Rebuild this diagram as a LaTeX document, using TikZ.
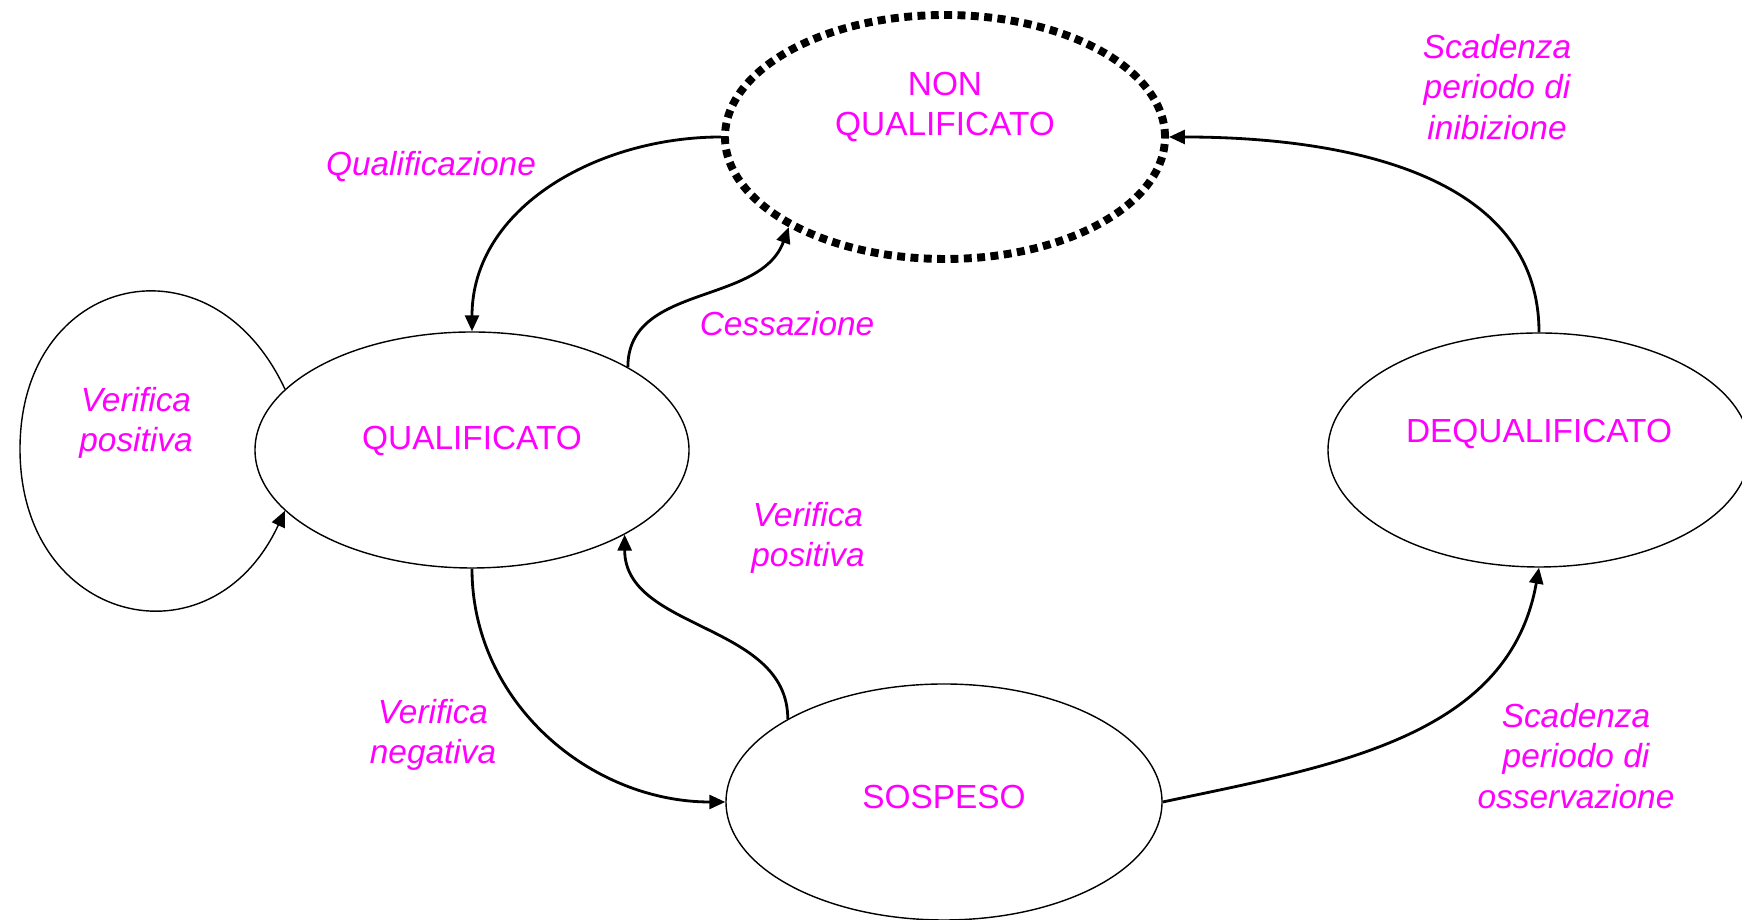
\documentclass[tikz,border=0pt]{standalone}
\usepackage{fontspec}
\setmainfont{Liberation Sans}
\usetikzlibrary{shapes.geometric,arrows.meta}

\definecolor{rosa}{HTML}{FF00FF}

\tikzset{
    stato/.style={ellipse, draw, line width=0.8pt, inner sep=0pt},
    nome/.style={text=rosa, font=\fontsize{19}{23}\selectfont, align=center},
    testo/.style={text=rosa, font=\fontsize{19}{23}\selectfont\itshape, align=center},
    transizione/.style={line width=1.6pt, -{Triangle[length=0.32cm, width=0.28cm]}},
    anello/.style={line width=0.8pt, -{Triangle[length=0.32cm, width=0.28cm]}},
}

\begin{document}
\begin{tikzpicture}

    \useasboundingbox (0,0) rectangle (34.84,18.4);

    % stati
    \node [stato, minimum width=8.8cm, minimum height=4.88cm, line width=4.5pt, dash pattern=on 4.5pt off 3.1pt,
           label={[nome, yshift=0.6cm]center:NON\\QUALIFICATO}] (nq) at (18.9,15.66) {};
    \node [stato, minimum width=8.68cm, minimum height=4.72cm,
           label={[nome, yshift=0.18cm]center:QUALIFICATO}] (q) at (9.44,9.40) {};
    \node [stato, minimum width=8.44cm, minimum height=4.68cm,
           label={[nome, yshift=0.32cm]center:DEQUALIFICATO}] (dq) at (30.78,9.40) {};
    \node [stato, minimum width=8.72cm, minimum height=4.72cm,
           label={[nome, yshift=0.1cm]center:SOSPESO}] (s) at (18.88,2.36) {};
    \coordinate (loop) at (0.4,9.42);

    % transizioni
    \draw [transizione] (nq.west) to[out=180, in=90] (q.north);
    \draw [transizione] (q.28) to[out=90, in=-110] (nq.210);
    \draw [transizione] (q.south) to[out=-90, in=180] (s.west);
    \draw [transizione] (s.152) to[out=90, in=-90] (q.331);
    \draw [transizione] (s.east) to[out=12, in=-100] (dq.south);
    \draw [transizione] (dq.north) to[out=90, in=0] (nq.east);
    \draw [anello] (q.162) to[out=115, in=90, looseness=1.65] (loop)
                           to[out=-90, in=-115, looseness=1.65] (q.198);

    % etichette
    \node [testo] (lqual) at (8.62,15.06) {Qualificazione};
    \node [testo] (lcess) at (15.74,11.92) {Cessazione};
    \node [testo] (lneg) at (8.66,3.70) {Verifica\\negativa};
    \node [testo] (lpos) at (16.16,7.64) {Verifica\\positiva};
    \node [testo] (loss) at (31.52,3.28) {Scadenza\\periodo di\\osservazione};
    \node [testo] (linib) at (29.94,16.66) {Scadenza\\periodo di\\inibizione};
    \node [testo] (lloop) at (2.72,9.94) {Verifica\\positiva};

\end{tikzpicture}
\end{document}
